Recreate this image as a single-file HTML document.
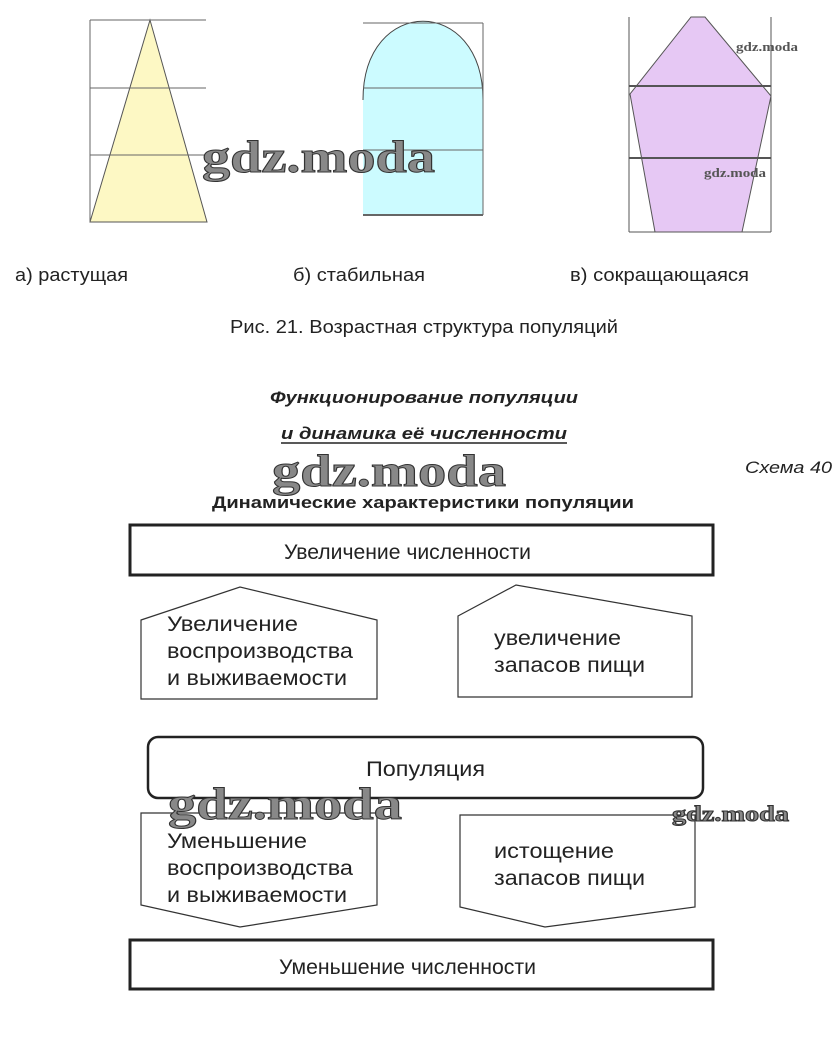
<!DOCTYPE html>
<html><head><meta charset="utf-8"><style>
html,body{margin:0;padding:0;background:#fff;}
svg{display:block;}
text{font-family:"Liberation Sans",sans-serif;fill:#222;}
.wm{font-family:"Liberation Serif",serif;font-weight:bold;fill:#888;stroke:#333;stroke-width:1;}
</style></head><body>
<svg width="840" height="1041" viewBox="0 0 840 1041" xmlns="http://www.w3.org/2000/svg">
<polygon points="150,20 90,222 207,222" fill="#fdf8c4" stroke="#555" stroke-width="1"/>
<g stroke="#666" stroke-width="1" fill="none">
<line x1="90" y1="20" x2="90" y2="222"/>
<line x1="90" y1="20" x2="206" y2="20"/>
<line x1="90" y1="88" x2="206" y2="88"/>
<line x1="90" y1="155" x2="206" y2="155"/>
</g>
<path d="M363,215 L363,100 C363,-5 483,-5 483,100 L483,215 Z" fill="#ccfbff" stroke="none"/>
<path d="M363,100 C363,-5 483,-5 483,100" fill="none" stroke="#444" stroke-width="1"/>
<g stroke="#666" stroke-width="1" fill="none">
<line x1="363" y1="23" x2="483" y2="23"/>
<line x1="363" y1="88" x2="483" y2="88"/>
<line x1="363" y1="150" x2="483" y2="150"/>
<line x1="363" y1="215" x2="483" y2="215" stroke-width="2"/>
<line x1="483" y1="23" x2="483" y2="215"/>
</g>
<polygon points="691,17 705,17 771,96 742,232 655,232 630,94" fill="#e6c8f4" stroke="#555" stroke-width="1"/>
<g stroke="#555" stroke-width="1" fill="none">
<line x1="629" y1="17" x2="629" y2="232"/>
<line x1="771" y1="17" x2="771" y2="232"/>
<line x1="629" y1="232" x2="771" y2="232"/>
<line x1="629" y1="86" x2="771" y2="86" stroke-width="2"/>
<line x1="629" y1="158" x2="771" y2="158" stroke-width="2"/>
</g>
<text class="wm" x="736" y="51" font-size="13" style="stroke:none;fill:#555" textLength="62" lengthAdjust="spacingAndGlyphs">gdz.moda</text>
<text class="wm" x="704" y="177" font-size="13" style="stroke:none;fill:#555" textLength="62" lengthAdjust="spacingAndGlyphs">gdz.moda</text>
<text class="wm" x="202" y="172" font-size="46" textLength="233" lengthAdjust="spacingAndGlyphs">gdz.moda</text>

<text x="15" y="281" font-size="18" textLength="113" lengthAdjust="spacingAndGlyphs">а) растущая</text>
<text x="293" y="281" font-size="18" textLength="132" lengthAdjust="spacingAndGlyphs">б) стабильная</text>
<text x="570" y="281" font-size="18" textLength="179" lengthAdjust="spacingAndGlyphs">в) сокращающаяся</text>
<text x="230" y="333" font-size="18" textLength="388" lengthAdjust="spacingAndGlyphs">Рис. 21. Возрастная структура популяций</text>

<text x="270" y="403" font-size="17" font-weight="bold" font-style="italic" textLength="308" lengthAdjust="spacingAndGlyphs">Функционирование популяции</text>
<text x="281" y="439" font-size="17" font-weight="bold" font-style="italic" textLength="286" lengthAdjust="spacingAndGlyphs">и динамика её численности</text>
<line x1="281" y1="443" x2="567" y2="443" stroke="#222" stroke-width="1.5"/>
<text class="wm" x="272" y="486" font-size="46" textLength="234" lengthAdjust="spacingAndGlyphs">gdz.moda</text>
<text x="745" y="473" font-size="17" font-style="italic" textLength="87" lengthAdjust="spacingAndGlyphs">Схема 40</text>
<text x="212" y="508" font-size="17" font-weight="bold" textLength="422" lengthAdjust="spacingAndGlyphs">Динамические характеристики популяции</text>

<rect x="130" y="525" width="583" height="50" fill="none" stroke="#222" stroke-width="3"/>
<text x="284" y="559" font-size="21" textLength="247" lengthAdjust="spacingAndGlyphs">Увеличение численности</text>

<polygon points="141,620 240,587 377,620 377,699 141,699" fill="none" stroke="#333" stroke-width="1.2"/>
<text x="167" y="631" font-size="21" textLength="131" lengthAdjust="spacingAndGlyphs">Увеличение</text>
<text x="167" y="658" font-size="21" textLength="186" lengthAdjust="spacingAndGlyphs">воспроизводства</text>
<text x="167" y="685" font-size="21" textLength="180" lengthAdjust="spacingAndGlyphs">и выживаемости</text>

<polygon points="458,616 516,585 692,616 692,697 458,697" fill="none" stroke="#333" stroke-width="1.2"/>
<text x="494" y="645" font-size="21" textLength="127" lengthAdjust="spacingAndGlyphs">увеличение</text>
<text x="494" y="672" font-size="21" textLength="151" lengthAdjust="spacingAndGlyphs">запасов пищи</text>

<rect x="148" y="737" width="555" height="61" rx="10" fill="none" stroke="#222" stroke-width="2.5"/>
<text x="366" y="776" font-size="21" textLength="119" lengthAdjust="spacingAndGlyphs">Популяция</text>

<polygon points="141,813 377,813 377,905 240,927 141,905" fill="none" stroke="#333" stroke-width="1.2"/>
<text x="167" y="848" font-size="21" textLength="140" lengthAdjust="spacingAndGlyphs">Уменьшение</text>
<text x="167" y="875" font-size="21" textLength="186" lengthAdjust="spacingAndGlyphs">воспроизводства</text>
<text x="167" y="902" font-size="21" textLength="180" lengthAdjust="spacingAndGlyphs">и выживаемости</text>

<polygon points="460,815 695,815 695,907 545,927 460,907" fill="none" stroke="#333" stroke-width="1.2"/>
<text x="494" y="858" font-size="21" textLength="120" lengthAdjust="spacingAndGlyphs">истощение</text>
<text x="494" y="885" font-size="21" textLength="151" lengthAdjust="spacingAndGlyphs">запасов пищи</text>

<text class="wm" x="168" y="819" font-size="46" textLength="234" lengthAdjust="spacingAndGlyphs">gdz.moda</text>
<text class="wm" x="672" y="821" font-size="22" textLength="117" lengthAdjust="spacingAndGlyphs">gdz.moda</text>

<rect x="130" y="940" width="583" height="49" fill="none" stroke="#222" stroke-width="3"/>
<text x="279" y="974" font-size="21" textLength="257" lengthAdjust="spacingAndGlyphs">Уменьшение численности</text>
</svg>
</body></html>
